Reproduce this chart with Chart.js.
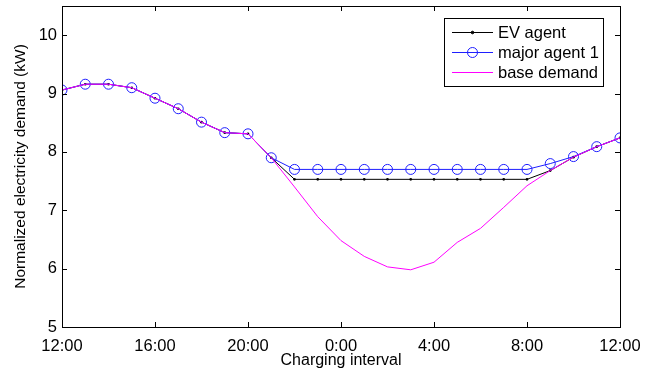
<!DOCTYPE html>
<html>
<head>
<meta charset="utf-8">
<script src="https://cdn.jsdelivr.net/npm/chart.js@4.4.1/dist/chart.umd.min.js"></script>
<style>
  html, body { margin: 0; padding: 0; background: #fff; }
  #wrap { width: 662px; height: 375px; }
</style>
</head>
<body>
<div id="wrap"><canvas id="demand_chart" width="662" height="375"></canvas></div>
<script>
// hours after 12:00, one point per charging interval
const hours = [0, 1, 2, 3, 4, 5, 6, 7, 8, 9, 10, 11, 12, 13, 14, 15, 16, 17, 18, 19, 20, 21, 22, 23, 24];
const tickLabels = ['12:00', '16:00', '20:00', '0:00', '4:00', '8:00', '12:00'];

const evAgent = [9.06, 9.16, 9.16, 9.10, 8.92, 8.74, 8.51, 8.33, 8.31, 7.90,
    7.53, 7.53, 7.53, 7.53, 7.53, 7.53, 7.53, 7.53, 7.53, 7.53, 7.53,
    7.68, 7.91, 8.09, 8.24];
const majorAgent = [9.06, 9.16, 9.16, 9.10, 8.92, 8.74, 8.51, 8.33, 8.31, 7.90,
    7.70, 7.70, 7.70, 7.70, 7.70, 7.70, 7.70, 7.70, 7.70, 7.70, 7.70,
    7.80, 7.92, 8.09, 8.24];
const baseDemand = [9.06, 9.16, 9.16, 9.10, 8.92, 8.74, 8.51, 8.33, 8.31, 7.90,
    7.40, 6.89, 6.48, 6.21, 6.03, 5.98, 6.11, 6.45, 6.69, 7.05, 7.42,
    7.68, 7.91, 8.09, 8.24];

const FONT = '"Liberation Sans", Arial, sans-serif';

function toPoints(vals) {
    return hours.map((h, i) => ({ x: h, y: vals[i] }));
}

// box round the plot with inward ticks, like the original axes
const axesBox = {
    id: 'axesBox',
    afterDatasetsDraw(chart) {
        const { ctx, chartArea: a, scales } = chart;
        ctx.save();
        ctx.strokeStyle = '#000';
        ctx.lineWidth = 1;
        ctx.beginPath();
        scales.x.ticks.forEach(t => {
            const px = Math.round(scales.x.getPixelForValue(t.value)) + 0.5;
            ctx.moveTo(px, a.bottom); ctx.lineTo(px, a.bottom - 5);
            ctx.moveTo(px, a.top); ctx.lineTo(px, a.top + 5);
        });
        scales.y.ticks.forEach(t => {
            const py = Math.round(scales.y.getPixelForValue(t.value)) + 0.5;
            ctx.moveTo(a.left, py); ctx.lineTo(a.left + 5, py);
            ctx.moveTo(a.right, py); ctx.lineTo(a.right - 5, py);
        });
        ctx.stroke();
        ctx.strokeRect(Math.round(a.left) + 0.5, Math.round(a.top) + 0.5,
            Math.round(a.right - a.left), Math.round(a.bottom - a.top));
        ctx.restore();
    }
};

// legend box in the upper right corner
const boxLegend = {
    id: 'boxLegend',
    afterDraw(chart) {
        const ctx = chart.ctx;
        const x0 = 444.5, y0 = 18.5, w = 159, h = 68;
        ctx.save();
        ctx.fillStyle = '#fff';
        ctx.fillRect(x0, y0, w, h);
        ctx.strokeStyle = '#000';
        ctx.lineWidth = 1;
        ctx.strokeRect(x0, y0, w, h);
        ctx.font = '16.5px ' + FONT;
        ctx.textBaseline = 'middle';
        const rows = [32, 52, 72];
        chart.data.datasets.forEach((ds, i) => {
            const y = rows[i] + 0.5;
            ctx.strokeStyle = ds.borderColor;
            ctx.beginPath();
            ctx.moveTo(452, y); ctx.lineTo(493, y);
            ctx.stroke();
            if (ds.pointRadius > 0) {
                ctx.beginPath();
                ctx.arc(472.5, y, ds.pointRadius, 0, Math.PI * 2);
                if (ds.pointBackgroundColor !== 'rgba(0,0,0,0)') {
                    ctx.fillStyle = ds.pointBackgroundColor;
                    ctx.fill();
                }
                ctx.strokeStyle = ds.pointBorderColor;
                ctx.stroke();
            }
            ctx.fillStyle = '#000';
            ctx.fillText(ds.label, 498, y + 1);
        });
        ctx.restore();
    }
};

const ctx = document.getElementById('demand_chart').getContext('2d');
new Chart(ctx, {
    type: 'line',
    data: {
        datasets: [
            {
                label: 'EV agent',
                data: toPoints(evAgent),
                borderColor: '#000000',
                borderWidth: 1,
                pointRadius: 1.3,
                pointBackgroundColor: '#000000',
                pointBorderColor: '#000000',
                pointBorderWidth: 0,
                order: 2,
                tension: 0
            },
            {
                label: 'major agent 1',
                data: toPoints(majorAgent),
                borderColor: '#1f1fff',
                borderWidth: 1,
                pointRadius: 5,
                pointBackgroundColor: 'rgba(0,0,0,0)',
                pointBorderColor: '#1f1fff',
                pointBorderWidth: 1,
                order: 1,
                tension: 0
            },
            {
                label: 'base demand',
                data: toPoints(baseDemand),
                borderColor: '#ff00ff',
                borderWidth: 1,
                pointRadius: 0,
                pointBackgroundColor: '#ff00ff',
                pointBorderColor: '#ff00ff',
                order: 0,
                tension: 0
            }
        ]
    },
    options: {
        responsive: false,
        animation: false,
        layout: { padding: { left: 0, right: 42, top: 5, bottom: 5 } },
        plugins: {
            legend: { display: false },
            tooltip: { enabled: false }
        },
        scales: {
            x: {
                type: 'linear',
                min: 0,
                max: 24,
                grid: { display: false, drawTicks: false },
                border: { display: false },
                afterFit: s => { s.height = 43; },
                ticks: {
                    stepSize: 4,
                    padding: 10,
                    maxRotation: 0,
                    color: '#000',
                    font: { family: FONT, size: 16.5 },
                    callback: v => tickLabels[v / 4]
                },
                title: {
                    display: true,
                    text: 'Charging interval',
                    color: '#000',
                    padding: { top: 0, bottom: 0 },
                    font: { family: FONT, size: 16 }
                }
            },
            y: {
                min: 5,
                max: 10.5,
                grid: { display: false, drawTicks: false },
                border: { display: false },
                afterBuildTicks: s => { s.ticks = s.ticks.filter(t => Number.isInteger(t.value)); },
                afterFit: s => { s.width = 62; s.paddingTop = 0; s.paddingBottom = 0; },
                ticks: {
                    stepSize: 1,
                    padding: 5,
                    color: '#000',
                    font: { family: FONT, size: 16.5 }
                },
                title: {
                    display: true,
                    text: 'Normalized electricity demand (kW)',
                    color: '#000',
                    padding: { top: 11, bottom: 0 },
                    font: { family: FONT, size: 15.5 }
                }
            }
        }
    },
    plugins: [axesBox, boxLegend]
});
</script>
</body>
</html>
